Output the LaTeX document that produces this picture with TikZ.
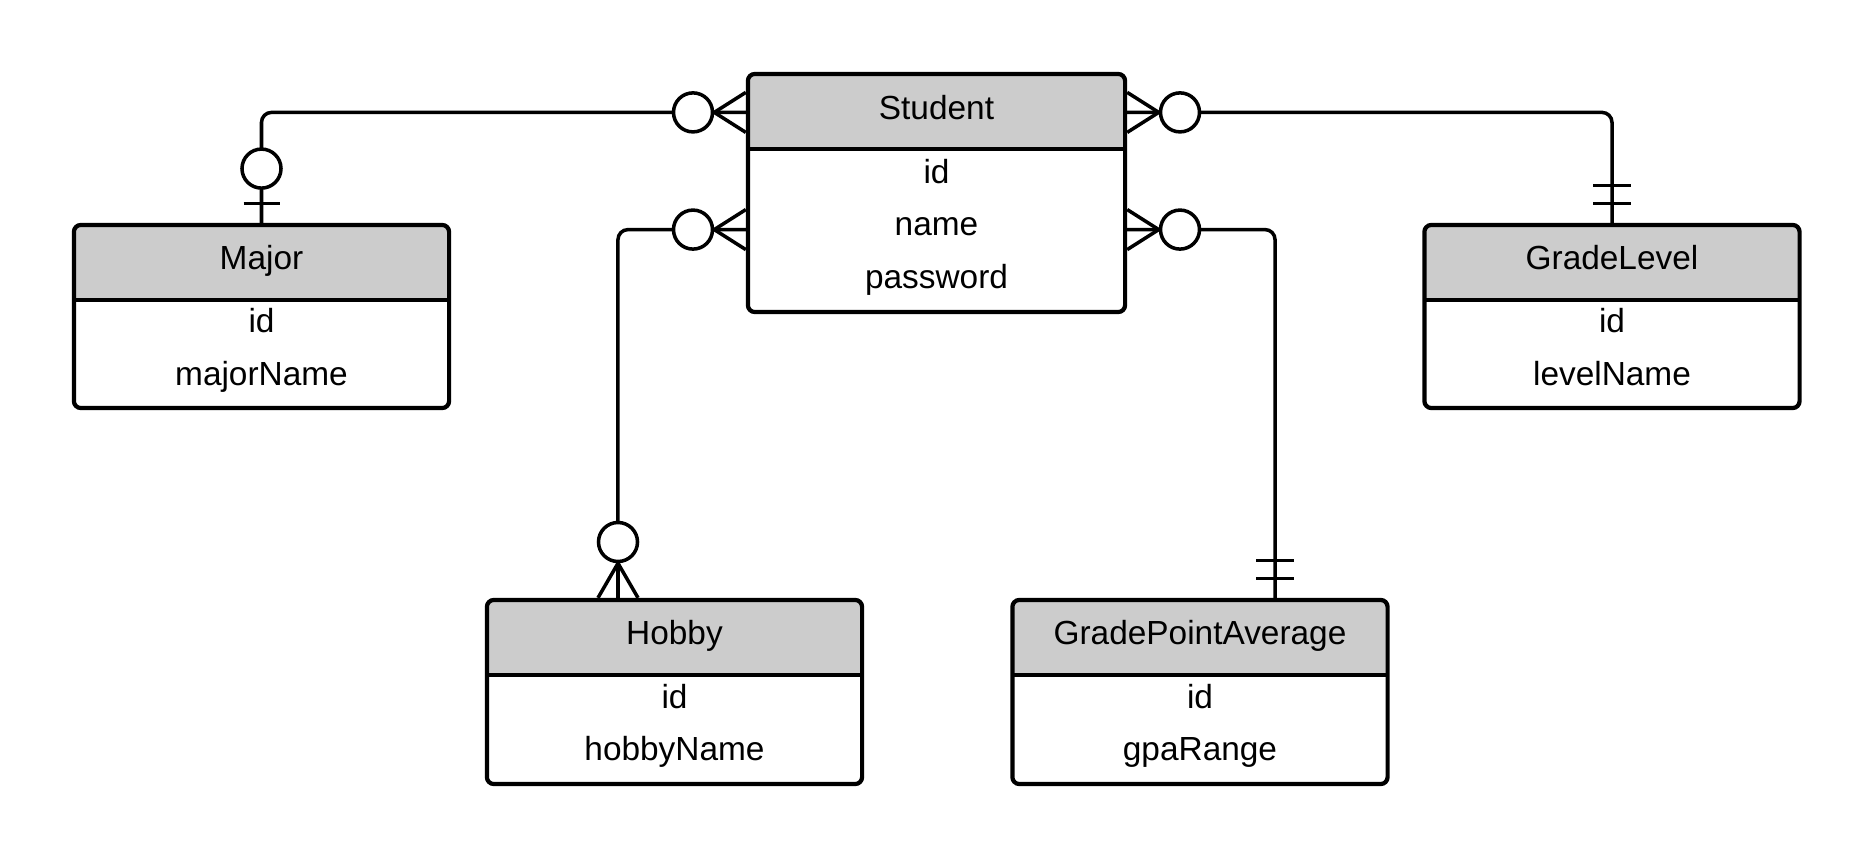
\documentclass[tikz,border=0pt]{standalone}
\usepackage{fontspec}
\setmainfont{Liberation Sans}
\usetikzlibrary{positioning}
\definecolor{headgray}{RGB}{204,204,204}
\newcommand{\erfont}{\fontsize{9.5pt}{11pt}\selectfont}

\begin{document}
\begin{tikzpicture}[x=0.01cm, y=-0.01cm,
    entity/.style={draw, line width=1.2pt, rounded corners=0.07cm, inner sep=0pt,
      minimum width=3.75cm,
      path picture={
        \fill[headgray, sharp corners] (path picture bounding box.north west) rectangle
          ([yshift=-0.75cm]path picture bounding box.north east);
        \draw[line width=1.2pt, sharp corners] ([yshift=-0.75cm]path picture bounding box.north west)
          -- ([yshift=-0.75cm]path picture bounding box.north east);}},
    entname/.style={font=\erfont, text height=0.75em, text depth=0.2em, inner sep=0pt},
    field/.style={font=\erfont, text height=0.75em, text depth=0.2em, inner sep=0pt},
    link/.style={line width=1pt, rounded corners=0.1cm},
    ring/.style={circle, draw, line width=1pt, fill=white, minimum size=0.39cm, inner sep=0pt}]
  \useasboundingbox (0,0) rectangle (1875,861);

  % entities
  \node[entity, minimum width=3.77cm, minimum height=2.38cm] (student) at (936.5,193) {};
  \node[entity, minimum height=1.83cm] (major) at (261.5,316.5) {};
  \node[entity, minimum height=1.83cm] (gradelevel) at (1612,316.5) {};
  \node[entity, minimum height=1.84cm] (hobby) at (674.5,692) {};
  \node[entity, minimum height=1.84cm] (gpa) at (1200,692) {};

  % names and fields
  \node[entname] (studenttitle) at (936.5,110) {Student};
  \node[field] (studentid) at (936.5,173.4) {id};
  \node[field] (studentname) at (936.5,226) {name};
  \node[field] (studentpw) at (936.5,278.6) {password};

  \node[entname] (majortitle) at (261.5,259.4) {Major};
  \node[field] (majorid) at (261.5,322.9) {id};
  \node[field] (majorname) at (261.5,375.4) {majorName};

  \node[entname] (gradeleveltitle) at (1612,259.4) {GradeLevel};
  \node[field] (gradelevelid) at (1612,322.9) {id};
  \node[field] (levelname) at (1612,375.4) {levelName};

  \node[entname] (hobbytitle) at (674.5,634.9) {Hobby};
  \node[field] (hobbyid) at (674.5,698.4) {id};
  \node[field] (hobbyname) at (674.5,750.9) {hobbyName};

  \node[entname] (gpatitle) at (1200,634.9) {GradePointAverage};
  \node[field] (gpaid) at (1200,698.4) {id};
  \node[field] (gparange) at (1200,750.9) {gpaRange};

  % connectors
  \draw[link] (student.west |- 0,112.4) -| (major.north);
  \draw[link] (student.east |- 0,112.4) -| (gradelevel.north);
  \draw[link] (student.west |- 0,229.6) -| ([xshift=-0.565cm]hobby.north);
  \draw[link] (student.east |- 0,229.6) -| ([xshift=0.75cm]gpa.north);

  % zero-or-many ends at Student
  \node[ring] (ringa) at (693,112.4) {};
  \node[ring] (ringb) at (693,229.6) {};
  \node[ring] (ringc) at (1180,112.4) {};
  \node[ring] (ringd) at (1180,229.6) {};
  \foreach \y in {92.4,112.4,132.4}{
    \draw[link] (ringa.east) -- (student.west |- 0,\y);
    \draw[link] (ringc.west) -- (student.east |- 0,\y);
  }
  \foreach \y in {209.6,229.6,249.6}{
    \draw[link] (ringb.east) -- (student.west |- 0,\y);
    \draw[link] (ringd.west) -- (student.east |- 0,\y);
  }

  % zero-or-one at Major
  \node[ring] (majorring) at (261.5,168.6) {};
  \draw[link] ([shift={(-18,-19.3)}]major.north) -- ([shift={(18,-19.3)}]major.north);

  % exactly one at GradeLevel and GradePointAverage
  \foreach \dy in {-19.3,-37.3}{
    \draw[link] ([shift={(-19,\dy)}]gradelevel.north) -- ([shift={(19,\dy)}]gradelevel.north);
    \draw[link] ([shift={(56,\dy)}]gpa.north) -- ([shift={(94,\dy)}]gpa.north);
  }

  % zero-or-many at Hobby
  \node[ring] (hobbyring) at (618,542) {};
  \foreach \x in {598,618,638}
    \draw[link] (hobbyring.south) -- (hobby.north -| \x,0);
\end{tikzpicture}
\end{document}
